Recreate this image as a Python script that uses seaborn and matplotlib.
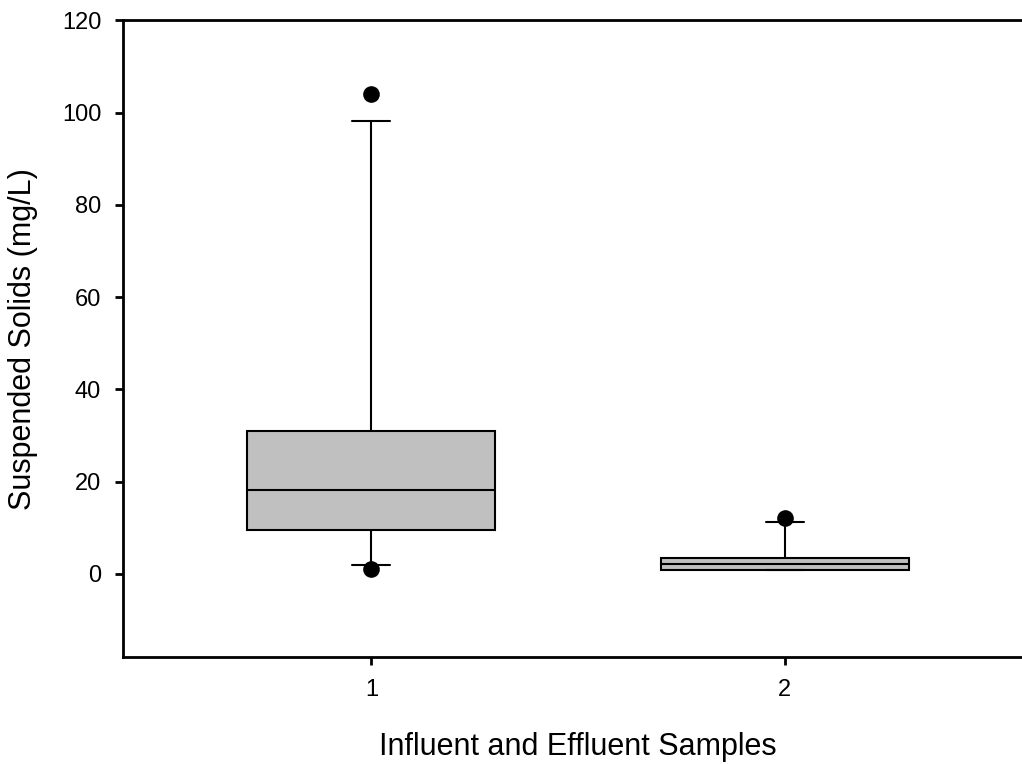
import pandas as pd
import matplotlib
matplotlib.use("Agg")
import matplotlib.pyplot as plt
import seaborn as sns

# Values (mg/L)
groups = ["1", "2"]
whisker_low = [1.8, 0.9]
q1 = [9.5, 0.9]
median = [18.1, 2.2]
q3 = [30.9, 3.5]
whisker_high = [98.1, 11.3]

# 5th / 95th percentile points
point_groups = ["1", "1", "2"]
point_values = [104.1, 1.1, 12.0]

# five-number summary per group -> whis=(0, 100) reproduces it exactly
rows = []
for i, g in enumerate(groups):
    for v in (whisker_low[i], q1[i], median[i], q3[i], whisker_high[i]):
        rows.append({"group": g, "value": v})
df = pd.DataFrame(rows)
points = pd.DataFrame({"group": point_groups, "value": point_values})

sns.set_style("ticks")
plt.rcParams["font.family"] = ["Liberation Sans", "DejaVu Sans"]
plt.rcParams["text.color"] = "black"
plt.rcParams["axes.labelcolor"] = "black"
plt.rcParams["xtick.color"] = "black"
plt.rcParams["ytick.color"] = "black"

fig = plt.figure(figsize=(10.22, 7.64), dpi=100)
ax = fig.add_axes([0.1207, 0.1404, 0.8897, 0.8328])

sns.boxplot(data=df, x="group", y="value", order=groups, whis=(0, 100),
            width=0.6, color="#c0c0c0", saturation=1, linecolor="black",
            linewidth=1.5, showfliers=False, capwidths=0.092, ax=ax)
sns.stripplot(data=points, x="group", y="value", order=groups, jitter=False,
              color="black", size=12, linewidth=0, ax=ax, zorder=5)

ax.set_xlim(-0.6, 1.6)
ax.set_ylim(-18, 120)
ax.set_yticks(range(0, 121, 20))
ax.set_xticks([0, 1])
ax.set_xticklabels(groups)

ax.set_xlabel("Influent and Effluent Samples", fontsize=22, labelpad=22)
ax.set_ylabel("Suspended Solids (mg/L)", fontsize=22, labelpad=17)
ax.tick_params(axis="both", labelsize=17, length=6, width=2,
               direction="out", pad=10)
ax.tick_params(top=False, right=False)

for side in ("left", "bottom", "top"):
    ax.spines[side].set_linewidth(2)
    ax.spines[side].set_color("black")
ax.spines["right"].set_visible(False)

plt.savefig("out.png", dpi=100)
plt.close()
